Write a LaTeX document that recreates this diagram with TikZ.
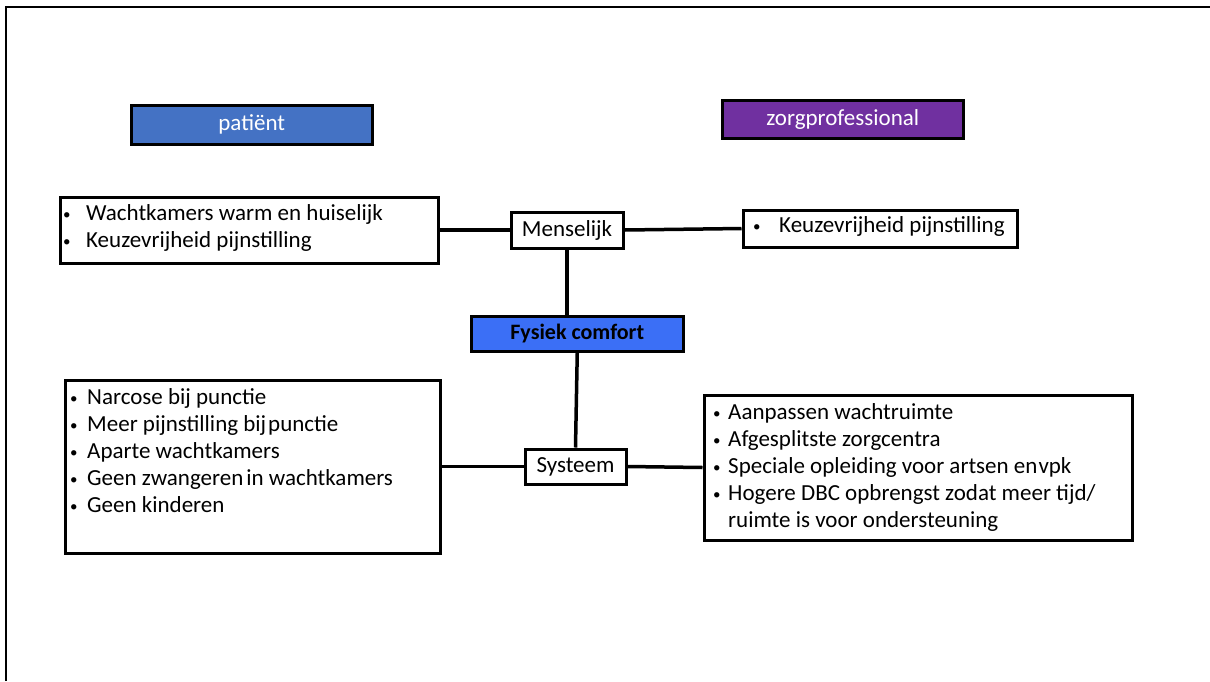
\documentclass[tikz,border=0pt]{standalone}
\usepackage{fontspec}
\setmainfont{Carlito}
\definecolor{patblue}{RGB}{68,114,196}
\definecolor{profpurple}{RGB}{112,48,160}
\definecolor{coreblue}{RGB}{59,111,246}
% small list bullet
\newcommand\listbullet{\raisebox{1pt}{\fontsize{15}{15}\selectfont\textbullet}}
\tikzset{
  box/.style={draw=black, line width=3pt, inner sep=0pt, anchor=north west,
    fill=white, font=\fontsize{23}{27}\selectfont},
  header/.style={box, line width=3.5pt, text=white},
  link/.style={line width=3.5pt},
  listtext/.style={anchor=base west, inner sep=0pt,
    font=\fontsize{23}{27}\selectfont}
}
\begin{document}
\begin{tikzpicture}[x=1pt,y=-1pt]
\useasboundingbox (0,0) rectangle (1210,681);
% page frame (top and left edges)
\draw[line width=2pt] (6,681) -- (6,7) -- (1210,7);

% column headers
\node[header, fill=patblue, minimum width=241pt, minimum height=39pt]
  (pat) at (129.5,103.5) {patiënt};
\node[header, fill=profpurple, minimum width=241pt, minimum height=38pt]
  (prof) at (720.5,98.5) {zorgprofessional};

% central nodes
\node[box, minimum width=112pt, minimum height=36pt] (mens) at (509.5,210.5) {Menselijk};
\node[box, line width=3.5pt, fill=coreblue, minimum width=212pt, minimum height=35pt,
  font=\fontsize{22}{26}\selectfont\bfseries] (fys) at (469.5,314.5) {Fysiek comfort};
\node[box, minimum width=101pt, minimum height=35pt] (sys) at (523.5,447.5) {Systeem};

% list boxes
\node[box, minimum width=378pt, minimum height=66pt] (tl) at (58.5,195.5) {};
\node[box, minimum width=274pt, minimum height=37pt] (tr) at (741.5,208.5) {};
\node[box, minimum width=375pt, minimum height=173pt] (bl) at (63.5,378.5) {};
\node[box, minimum width=428pt, minimum height=145pt] (br) at (702.5,393.5) {};

% list contents
\node[listtext] (tltext) at (63,220.7) {%
  \begin{tabular}[t]{@{}p{23pt}@{}l@{}}
  \listbullet & Wachtkamers warm en huiselijk\\
  \listbullet & Keuzevrijheid pijnstilling
  \end{tabular}};
\node[listtext] (trtext) at (753,232.3) {%
  \begin{tabular}[t]{@{}p{26pt}@{}l@{}}
  \listbullet & Keuzevrijheid pijnstilling
  \end{tabular}};
\node[listtext] (bltext) at (70,404) {%
  \begin{tabular}[t]{@{}p{17pt}@{}l@{}}
  \listbullet & Narcose bij punctie\\
  \listbullet & Meer pijnstilling bij\hspace{2pt}punctie\\
  \listbullet & Aparte wachtkamers\\
  \listbullet & Geen zwangeren\hspace{3pt}in wachtkamers\\
  \listbullet & Geen kinderen
  \end{tabular}};
\node[listtext] (brtext) at (713,419.3) {%
  \begin{tabular}[t]{@{}p{15pt}@{}l@{}}
  \listbullet & Aanpassen wachtruimte\\
  \listbullet & Afgesplitste zorgcentra\\
  \listbullet & Speciale opleiding voor artsen en\hspace{1pt}vpk\\
  \listbullet & Hogere DBC opbrengst zodat meer tijd/\\
              & ruimte is voor ondersteuning
  \end{tabular}};

% connectors
\draw[link] (tl.east) -- (mens.west);
\draw[link] (mens.east) -- (tr.west);
\draw[link] (mens.south) -- (mens.south |- fys.north);
\draw[link] (fys.south) -- (sys.north);
\draw[link] (bl.east) -- (sys.west);
\draw[link] (sys.east) -- (br.west);
\end{tikzpicture}
\end{document}
